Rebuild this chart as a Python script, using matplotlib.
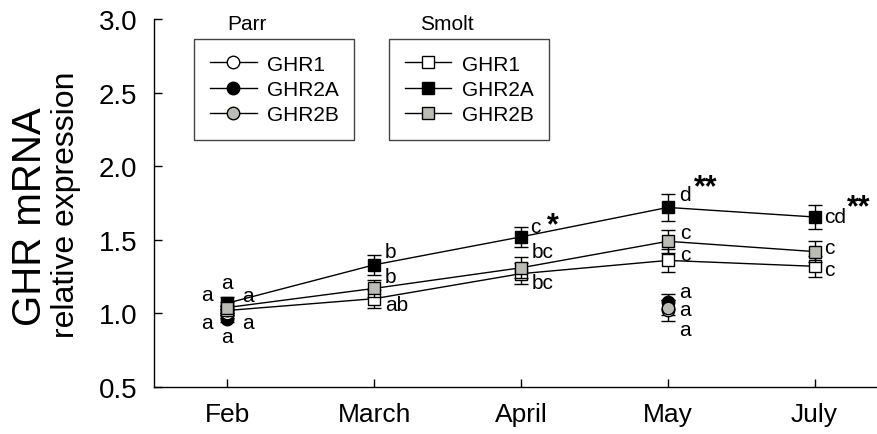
import matplotlib
matplotlib.use('Agg')
import matplotlib.pyplot as plt
from matplotlib.lines import Line2D

plt.rcParams['font.family'] = ['Liberation Sans', 'DejaVu Sans']

months = ['Feb', 'March', 'April', 'May', 'July']
smolt_x = [0, 1, 2, 3, 4]
parr_x = [0, 3]

# smolt series
smolt_ghr1 = [1.02, 1.10, 1.27, 1.36, 1.32]
smolt_ghr1_err = [0.03, 0.06, 0.07, 0.08, 0.07]
smolt_ghr2a = [1.07, 1.33, 1.52, 1.72, 1.655]
smolt_ghr2a_err = [0.04, 0.07, 0.07, 0.09, 0.08]
smolt_ghr2b = [1.04, 1.17, 1.31, 1.49, 1.42]
smolt_ghr2b_err = [0.04, 0.06, 0.07, 0.08, 0.07]

# parr series (Feb and May only)
parr_ghr1 = [1.00, 1.02]
parr_ghr1_err = [0.03, 0.07]
parr_ghr2a = [0.96, 1.08]
parr_ghr2a_err = [0.02, 0.05]
parr_ghr2b = [1.02, 1.04]
parr_ghr2b_err = [0.03, 0.05]

# significance letters: (x, y, text)
letters = [
    (0, 1.21, 'a'), (-0.14, 1.13, 'a'), (0.14, 1.12, 'a'),
    (-0.14, 0.94, 'a'), (0.14, 0.94, 'a'), (0, 0.84, 'a'),
    (1.11, 1.42, 'b'), (1.11, 1.25, 'b'), (1.15, 1.06, 'ab'),
    (2.10, 1.59, 'c'), (2.15, 1.42, 'bc'), (2.15, 1.21, 'bc'),
    (3.12, 1.81, 'd'), (3.12, 1.55, 'c'), (3.12, 1.40, 'c'),
    (3.12, 1.15, 'a'), (3.12, 1.03, 'a'), (3.12, 0.89, 'a'),
    (4.14, 1.655, 'cd'), (4.10, 1.45, 'c'), (4.10, 1.30, 'c'),
]
stars = [(2.22, 1.60, '*'), (3.26, 1.86, '**'), (4.30, 1.72, '**')]

gray = '#bcbcb4'

fig = plt.figure(figsize=(8.78, 4.35), dpi=100)
ax = fig.add_axes([0.1754, 0.108, 0.836, 0.846])

eb = dict(ecolor='black', elinewidth=1, capsize=5, capthick=1)

# parr (no connecting line)
ax.errorbar(parr_x, parr_ghr2a, yerr=parr_ghr2a_err, fmt='o', ms=9, mfc='black', mec='black', zorder=3, **eb)
ax.errorbar(parr_x, parr_ghr1, yerr=parr_ghr1_err, fmt='o', ms=9, mfc='white', mec='black', zorder=3, **eb)
ax.errorbar(parr_x, parr_ghr2b, yerr=parr_ghr2b_err, fmt='o', ms=9, mfc=gray, mec='black', zorder=3, **eb)

# smolt
ax.errorbar(smolt_x, smolt_ghr2a, yerr=smolt_ghr2a_err, fmt='s-', color='black', lw=1, ms=8,
            mfc='black', mec='black', zorder=4, **eb)
ax.errorbar(smolt_x, smolt_ghr1, yerr=smolt_ghr1_err, fmt='s-', color='black', lw=1, ms=8,
            mfc='white', mec='black', zorder=4, **eb)
ax.errorbar(smolt_x, smolt_ghr2b, yerr=smolt_ghr2b_err, fmt='s-', color='black', lw=1, ms=8,
            mfc=gray, mec='black', zorder=5, **eb)

for x, y, t in letters:
    ax.text(x, y, t, ha='center', va='center', fontsize=15)
for x, y, t in stars:
    ax.text(x, y, t, ha='center', va='center', fontsize=22, fontweight='bold')

ax.set_xlim(-0.5, 4.5)
ax.set_ylim(0.5, 3.0)
ax.set_xticks(smolt_x)
ax.set_xticklabels(months)
ax.set_yticks([0.5, 1.0, 1.5, 2.0, 2.5, 3.0])
ax.set_yticklabels(['0.5', '1.0', '1.5', '2.0', '2.5', '3.0'])
ax.tick_params(direction='in', length=6, width=1, labelsize=19)
ax.tick_params(axis='y', pad=12, labelsize=20)
ax.tick_params(axis='x', pad=11)
for s in ['top', 'right']:
    ax.spines[s].set_visible(False)
for s in ['left', 'bottom']:
    ax.spines[s].set_linewidth(1)

fig.text(0.034, 0.503, 'GHR mRNA', rotation=90, ha='center', va='center', fontsize=29)
fig.text(0.075, 0.529, 'relative expression', rotation=90, ha='center', va='center', fontsize=23)

# legends
h_parr = [Line2D([], [], color='black', lw=1, marker='o', ms=9, mfc=c, mec='black') for c in ['white', 'black', gray]]
h_smolt = [Line2D([], [], color='black', lw=1, marker='s', ms=8, mfc=c, mec='black') for c in ['white', 'black', gray]]
names = ['GHR1', 'GHR2A', 'GHR2B']

legend_style = dict(loc='upper left', fontsize=15, fancybox=False, edgecolor='#444444',
                    handlelength=2.25, handletextpad=0.5, borderpad=0.75, labelspacing=0.3,
                    framealpha=1, borderaxespad=0)
leg1 = ax.legend(h_parr, names, bbox_to_anchor=(0.0545, 0.9457), **legend_style)
leg1.get_frame().set_linewidth(1)
ax.add_artist(leg1)
leg2 = ax.legend(h_smolt, names, bbox_to_anchor=(0.320, 0.9457), **legend_style)
leg2.get_frame().set_linewidth(1)

fig.text(247 / 878, 1 - 25 / 435, 'Parr', ha='center', va='center', fontsize=15)
fig.text(447 / 878, 1 - 25 / 435, 'Smolt', ha='center', va='center', fontsize=15)

fig.savefig('out.png', dpi=100)
